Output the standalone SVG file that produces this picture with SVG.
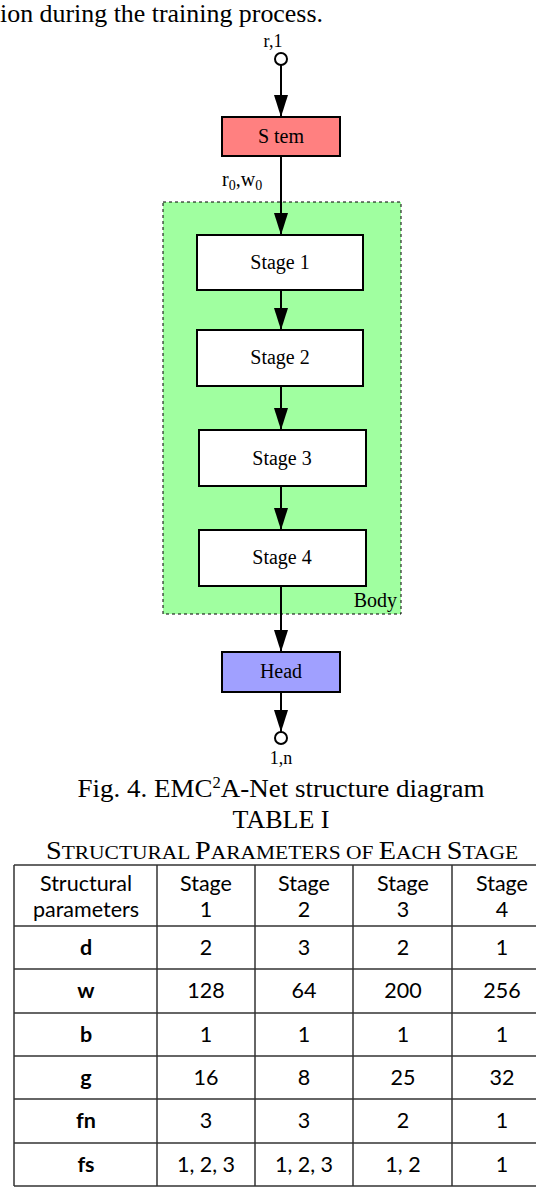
<svg xmlns="http://www.w3.org/2000/svg" width="536" height="1188" viewBox="0 0 536 1188">
<defs>
<marker id="ah" markerUnits="userSpaceOnUse" markerWidth="22" markerHeight="14" refX="22" refY="7" orient="auto" viewBox="0 0 22 14">
<path d="M0,0 L22,7 L0,14 Z" fill="#000"/>
</marker>
<style>
.serif{font-family:"Liberation Serif","Times New Roman",serif;fill:#000}
.box{stroke:#000;stroke-width:2}
.lbl{font-size:20px;text-anchor:middle}
.small{font-size:18px}
.conn line{stroke:#000;stroke-width:2}
.tbl{font-family:Lato,"Open Sans",sans-serif;font-size:21.5px;fill:#000;text-anchor:middle}
.tbl .b{font-weight:bold}
.grid line{stroke:#333;stroke-width:1.5}
</style>
</defs>
<rect width="536" height="1188" fill="#fff"/>
<text class="serif" x="0" y="22" font-size="26" textLength="323" lengthAdjust="spacingAndGlyphs">ion during the training process.</text>

<g id="input">
<circle cx="281" cy="59" r="6" fill="#fff" stroke="#000" stroke-width="2"/>
<text class="serif small" x="273" y="47" text-anchor="middle">r,1</text>
</g>
<g id="body">
<rect x="163" y="202" width="238" height="412" fill="#A0FFA0" stroke="#000" stroke-width="1" stroke-dasharray="3,3"/>
<text class="serif" x="397" y="607" font-size="20" text-anchor="end">Body</text>
</g>
<g id="stem">
<rect class="box" x="222" y="117" width="118" height="39" fill="#FF8080"/>
<text class="serif lbl" x="281" y="143">S tem</text>
</g>
<g id="stage1">
<rect class="box" x="197" y="235" width="166" height="55" fill="#fff"/>
<text class="serif lbl" x="280" y="269">Stage 1</text>
</g>
<g id="stage2">
<rect class="box" x="197" y="330" width="166" height="56" fill="#fff"/>
<text class="serif lbl" x="280" y="364">Stage 2</text>
</g>
<g id="stage3">
<rect class="box" x="199" y="430" width="167" height="56" fill="#fff"/>
<text class="serif lbl" x="282" y="465">Stage 3</text>
</g>
<g id="stage4">
<rect class="box" x="199" y="530" width="167" height="56" fill="#fff"/>
<text class="serif lbl" x="282" y="564">Stage 4</text>
</g>
<g id="head">
<rect class="box" x="222" y="652" width="118" height="40" fill="#A0A0FF"/>
<text class="serif lbl" x="281" y="678">Head</text>
</g>
<g id="output">
<circle cx="281" cy="738" r="6" fill="#fff" stroke="#000" stroke-width="2"/>
<text class="serif small" x="281" y="764" text-anchor="middle">1,n</text>
</g>
<g id="edge-label">
<text class="serif" font-size="20" x="222" y="186">r<tspan font-size="14" dy="4">0</tspan><tspan dy="-4">,w</tspan><tspan font-size="14" dy="4">0</tspan></text>
</g>
<g class="conn">
<line x1="281" y1="65" x2="281" y2="117" marker-end="url(#ah)"/>
<line x1="281" y1="156" x2="281" y2="235" marker-end="url(#ah)"/>
<line x1="281" y1="290" x2="281" y2="330" marker-end="url(#ah)"/>
<line x1="281" y1="386" x2="281" y2="430" marker-end="url(#ah)"/>
<line x1="281" y1="486" x2="281" y2="530" marker-end="url(#ah)"/>
<line x1="281" y1="586" x2="281" y2="652" marker-end="url(#ah)"/>
<line x1="281" y1="692" x2="281" y2="732" marker-end="url(#ah)"/>
</g>

<text class="serif" x="281" y="797" font-size="26" text-anchor="middle" textLength="407" lengthAdjust="spacingAndGlyphs">Fig. 4. EMC<tspan font-size="16" dy="-9">2</tspan><tspan dy="9">A-Net structure diagram</tspan></text>
<text class="serif" x="281" y="828" font-size="26" text-anchor="middle">TABLE I</text>
<text class="serif" x="282" y="859" font-size="25" text-anchor="middle" textLength="472" lengthAdjust="spacingAndGlyphs">S<tspan font-size="19">TRUCTURAL </tspan>P<tspan font-size="19">ARAMETERS OF </tspan>E<tspan font-size="19">ACH </tspan>S<tspan font-size="19">TAGE</tspan></text>

<g id="table">
<g class="grid">
<line x1="14" y1="865" x2="552" y2="865"/>
<line x1="14" y1="926" x2="552" y2="926"/>
<line x1="14" y1="969" x2="552" y2="969"/>
<line x1="14" y1="1013" x2="552" y2="1013"/>
<line x1="14" y1="1056" x2="552" y2="1056"/>
<line x1="14" y1="1099" x2="552" y2="1099"/>
<line x1="14" y1="1143" x2="552" y2="1143"/>
<line x1="14" y1="1186" x2="552" y2="1186"/>
<line x1="14" y1="865" x2="14" y2="1186"/>
<line x1="157" y1="865" x2="157" y2="1186"/>
<line x1="255" y1="865" x2="255" y2="1186"/>
<line x1="353" y1="865" x2="353" y2="1186"/>
<line x1="452" y1="865" x2="452" y2="1186"/>
</g>
<g class="tbl">
<text x="86" y="891">Structural</text><text x="86" y="917">parameters</text>
<text x="206" y="891">Stage</text><text x="206" y="917">1</text>
<text x="304" y="891">Stage</text><text x="304" y="917">2</text>
<text x="403" y="891">Stage</text><text x="403" y="917">3</text>
<text x="502" y="891">Stage</text><text x="502" y="917">4</text>

<text class="b" x="86" y="955">d</text><text x="206" y="955">2</text><text x="304" y="955">3</text><text x="403" y="955">2</text><text x="502" y="955">1</text>
<text class="b" x="86" y="998">w</text><text x="206" y="998">128</text><text x="304" y="998">64</text><text x="403" y="998">200</text><text x="502" y="998">256</text>
<text class="b" x="86" y="1042">b</text><text x="206" y="1042">1</text><text x="304" y="1042">1</text><text x="403" y="1042">1</text><text x="502" y="1042">1</text>
<text class="b" x="86" y="1085">g</text><text x="206" y="1085">16</text><text x="304" y="1085">8</text><text x="403" y="1085">25</text><text x="502" y="1085">32</text>
<text class="b" x="86" y="1128">fn</text><text x="206" y="1128">3</text><text x="304" y="1128">3</text><text x="403" y="1128">2</text><text x="502" y="1128">1</text>
<text class="b" x="86" y="1172">fs</text><text x="206" y="1172">1, 2, 3</text><text x="304" y="1172">1, 2, 3</text><text x="403" y="1172">1, 2</text><text x="502" y="1172">1</text>
</g>
</g>
</svg>
